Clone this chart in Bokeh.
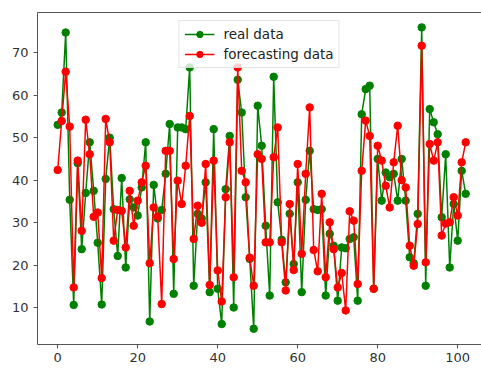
from bokeh.plotting import figure
from bokeh.models import Range1d, FixedTicker, LinearAxis, Legend, LegendItem
from bokeh.embed import file_html
from bokeh.resources import INLINE

# index of each sample
x_index = list(range(103))

real_data = [
    53.0, 55.9, 74.7, 35.4, 10.7, 44.0, 23.8, 37.0, 48.9, 37.5,
    25.3, 10.8, 40.3, 50.0, 33.2, 22.2, 40.5, 19.5, 35.5, 33.6,
    31.7, 38.3, 48.9, 6.8, 38.9, 31.0, 33.0, 41.5, 53.2, 13.3,
    52.4, 52.4, 52.0, 66.5, 15.2, 32.1, 31.0, 39.5, 13.7, 52.0,
    14.5, 6.2, 37.9, 50.4, 10.1, 63.6, 55.9, 36.0, 21.5, 5.1,
    57.5, 48.1, 29.3, 12.9, 64.3, 34.8, 26.0, 16.0, 32.1, 20.3,
    39.5, 13.7, 35.4, 46.9, 33.2, 33.0, 33.2, 12.9, 27.4, 24.6,
    11.7, 24.2, 24.0, 26.2, 26.6, 11.7, 55.5, 61.4, 62.2, 14.5,
    45.0, 35.2, 41.8, 40.7, 41.5, 35.2, 45.0, 35.2, 21.9, 20.5,
    32.1, 75.9, 15.2, 56.7, 53.6, 50.8, 31.3, 46.1, 19.5, 34.4,
    25.8, 42.2, 36.8,
]

forecast_data = [
    42.4, 53.9, 65.5, 52.6, 14.8, 44.6, 28.1, 54.2, 46.1, 31.4,
    32.4, 17.0, 54.4, 48.9, 25.8, 33.0, 32.8, 24.2, 37.5, 29.3,
    35.2, 39.5, 43.4, 20.5, 33.6, 31.5, 10.9, 46.9, 46.9, 21.5,
    39.9, 34.4, 43.4, 55.1, 26.2, 34.0, 30.0, 43.8, 15.4, 44.6,
    18.8, 11.5, 36.0, 48.9, 17.2, 66.5, 42.2, 39.5, 21.8, 15.2,
    46.1, 45.0, 25.4, 25.4, 45.4, 52.4, 25.4, 14.1, 34.4, 18.9,
    43.8, 22.7, 41.5, 57.1, 23.6, 18.6, 36.8, 17.2, 30.1, 23.8,
    14.8, 18.2, 9.4, 32.7, 30.5, 15.6, 42.2, 54.0, 50.4, 14.5,
    48.1, 44.6, 38.7, 33.6, 44.2, 52.8, 40.0, 38.3, 24.6, 19.9,
    29.7, 71.6, 20.7, 48.5, 44.6, 48.9, 27.0, 29.8, 30.1, 36.0,
    31.7, 44.2, 48.9,
]

x_ticks = [0, 20, 40, 60, 80, 100]
y_ticks = [10, 20, 30, 40, 50, 60, 70]

FONT = "DejaVu Sans"
SPINE = "#555555"

p = figure(
    width=481, height=371,
    output_backend="svg", toolbar_location=None,
    x_range=Range1d(-5.05, 105.95), y_range=Range1d(1.4, 79.4),
    min_border_left=37, min_border_right=0,
    min_border_top=12, min_border_bottom=27,
)
p.grid.visible = False
p.outline_line_color = None
p.background_fill_color = "white"
p.border_fill_color = "white"

for ax, ticks in ((p.xaxis, x_ticks), (p.yaxis, y_ticks)):
    ax.ticker = FixedTicker(ticks=ticks)
    ax.minor_tick_line_color = None
    ax.major_tick_in = 0
    ax.major_tick_out = 4
    ax.axis_line_color = SPINE
    ax.major_tick_line_color = SPINE
    ax.major_label_text_font = FONT
    ax.major_label_text_font_size = "13px"
    ax.major_label_text_color = "#333333"
p.xaxis.major_label_standoff = 4
p.yaxis.major_label_standoff = 5

top = LinearAxis(ticker=FixedTicker(ticks=[]), axis_line_color=SPINE,
                 major_tick_line_color=None, minor_tick_line_color=None,
                 major_label_text_font_size="0px")
p.add_layout(top, "above")

gl = p.line(x_index, real_data, line_color="#008000", line_width=1.5)
gs = p.scatter(x_index, real_data, size=7.5, fill_color="#008000", line_color="#008000")
rl = p.line(x_index, forecast_data, line_color="#ff0000", line_width=1.5)
rs = p.scatter(x_index, forecast_data, size=7.5, fill_color="#ff0000", line_color="#ff0000")

legend = Legend(
    items=[LegendItem(label="real data", renderers=[gl, gs]),
           LegendItem(label="forecasting data", renderers=[rl, rs])],
    location="top_center",
    margin=8, padding=5, spacing=4,
    glyph_width=30, glyph_height=16, label_height=16, label_standoff=9,
    label_text_font=FONT, label_text_font_size="13.5px", label_text_color="#222222",
    border_line_color="#cccccc", border_line_width=1,
    background_fill_color="white", background_fill_alpha=0.8,
)
p.add_layout(legend)

open("out.html", "w").write(file_html(p, INLINE))
